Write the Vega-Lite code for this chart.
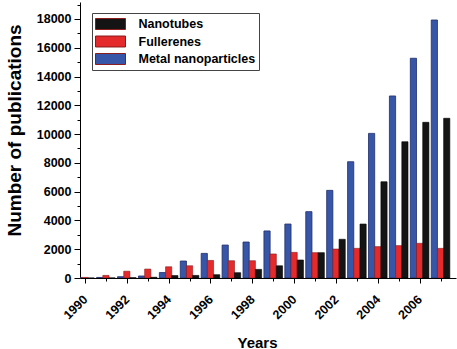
{
  "$schema": "https://vega.github.io/schema/vega-lite/v6.json",
  "autosize": {"type": "none"},
  "padding": {"left": 80, "top": 2, "right": 1, "bottom": 71},
  "width": 376,
  "height": 276,
  "background": "white",
  "config": {
    "view": {"stroke": null},
    "font": "Liberation Sans",
    "axis": {"domainColor": "#000", "tickColor": "#000", "labelColor": "#000", "titleColor": "#000", "grid": false, "domainWidth": 1, "tickWidth": 1}
  },
  "data": {"values": [
    {"year": 1990, "series": "Metal nanoparticles", "value": 20},
    {"year": 1990, "series": "Fullerenes", "value": 40},
    {"year": 1990, "series": "Nanotubes", "value": 0},
    {"year": 1991, "series": "Metal nanoparticles", "value": 40},
    {"year": 1991, "series": "Fullerenes", "value": 180},
    {"year": 1991, "series": "Nanotubes", "value": 5},
    {"year": 1992, "series": "Metal nanoparticles", "value": 90},
    {"year": 1992, "series": "Fullerenes", "value": 470},
    {"year": 1992, "series": "Nanotubes", "value": 20},
    {"year": 1993, "series": "Metal nanoparticles", "value": 140},
    {"year": 1993, "series": "Fullerenes", "value": 620},
    {"year": 1993, "series": "Nanotubes", "value": 50},
    {"year": 1994, "series": "Metal nanoparticles", "value": 380},
    {"year": 1994, "series": "Fullerenes", "value": 780},
    {"year": 1994, "series": "Nanotubes", "value": 170},
    {"year": 1995, "series": "Metal nanoparticles", "value": 1180},
    {"year": 1995, "series": "Fullerenes", "value": 850},
    {"year": 1995, "series": "Nanotubes", "value": 180},
    {"year": 1996, "series": "Metal nanoparticles", "value": 1710},
    {"year": 1996, "series": "Fullerenes", "value": 1220},
    {"year": 1996, "series": "Nanotubes", "value": 230},
    {"year": 1997, "series": "Metal nanoparticles", "value": 2290},
    {"year": 1997, "series": "Fullerenes", "value": 1200},
    {"year": 1997, "series": "Nanotubes", "value": 370},
    {"year": 1998, "series": "Metal nanoparticles", "value": 2500},
    {"year": 1998, "series": "Fullerenes", "value": 1200},
    {"year": 1998, "series": "Nanotubes", "value": 600},
    {"year": 1999, "series": "Metal nanoparticles", "value": 3270},
    {"year": 1999, "series": "Fullerenes", "value": 1670},
    {"year": 1999, "series": "Nanotubes", "value": 850},
    {"year": 2000, "series": "Metal nanoparticles", "value": 3750},
    {"year": 2000, "series": "Fullerenes", "value": 1780},
    {"year": 2000, "series": "Nanotubes", "value": 1250},
    {"year": 2001, "series": "Metal nanoparticles", "value": 4610},
    {"year": 2001, "series": "Fullerenes", "value": 1760},
    {"year": 2001, "series": "Nanotubes", "value": 1760},
    {"year": 2002, "series": "Metal nanoparticles", "value": 6090},
    {"year": 2002, "series": "Fullerenes", "value": 2010},
    {"year": 2002, "series": "Nanotubes", "value": 2690},
    {"year": 2003, "series": "Metal nanoparticles", "value": 8080},
    {"year": 2003, "series": "Fullerenes", "value": 2060},
    {"year": 2003, "series": "Nanotubes", "value": 3750},
    {"year": 2004, "series": "Metal nanoparticles", "value": 10050},
    {"year": 2004, "series": "Fullerenes", "value": 2180},
    {"year": 2004, "series": "Nanotubes", "value": 6690},
    {"year": 2005, "series": "Metal nanoparticles", "value": 12650},
    {"year": 2005, "series": "Fullerenes", "value": 2250},
    {"year": 2005, "series": "Nanotubes", "value": 9470},
    {"year": 2006, "series": "Metal nanoparticles", "value": 15270},
    {"year": 2006, "series": "Fullerenes", "value": 2410},
    {"year": 2006, "series": "Nanotubes", "value": 10820},
    {"year": 2007, "series": "Metal nanoparticles", "value": 17930},
    {"year": 2007, "series": "Fullerenes", "value": 2060},
    {"year": 2007, "series": "Nanotubes", "value": 11100}
  ]},
  "layer": [
    {
      "transform": [{"filter": "datum.series == 'Metal nanoparticles'"}],
      "mark": {"type": "bar", "width": 6.2, "xOffset": -6.2, "stroke": "#1f2d6b", "strokeWidth": 0.8, "clip": true},
      "encoding": {
        "x": {"field": "year", "type": "quantitative",
          "scale": {"domain": [1990, 2007.5], "nice": false, "zero": false},
          "axis": {"orient": "bottom", "values": [1990, 1992, 1994, 1996, 1998, 2000, 2002, 2004, 2006], "format": "d",
            "labelAngle": -45, "labelAlign": "right", "labelBaseline": "middle", "labelPadding": 14,
            "labelDx": -5.7, "labelDy": -5.7,
            "labelFontSize": 12.5, "labelFontWeight": "bold", "labelFlush": false, "labelOverlap": false,
            "tickSize": 5, "title": "Years", "titleFontSize": 15, "titleFontWeight": "bold",
            "titleX": 177, "titleY": 57, "titleBaseline": "top"}},
        "y": {"field": "value", "type": "quantitative",
          "scale": {"domain": [0, 19180], "nice": false},
          "axis": {"orient": "left", "values": [0, 2000, 4000, 6000, 8000, 10000, 12000, 14000, 16000, 18000], "format": "d",
            "labelFontSize": 12.5, "labelFontWeight": "bold", "labelPadding": 3, "tickSize": 6,
            "title": "Number of publications", "titleFontSize": 19, "titleFontWeight": "bold",
            "titleX": -56, "titleY": 128, "titleBaseline": "bottom", "titleAlign": "center"}},
        "color": {"field": "series", "type": "nominal",
          "scale": {"domain": ["Nanotubes", "Fullerenes", "Metal nanoparticles"], "range": ["#141414", "#e52a2c", "#3856a8"]},
          "legend": {"title": null, "orient": "none", "legendX": 12, "legendY": 11,
            "symbolType": "M-2,-0.73h4v1.46h-4z", "symbolSize": 225, "symbolOffset": 7.5,
            "symbolStrokeColor": "#000", "symbolStrokeWidth": 1, "labelOffset": 20,
            "labelFontSize": 12.5, "labelFontWeight": "bold", "labelColor": "#000",
            "rowPadding": 1.5, "padding": 3, "strokeColor": "#444", "fillColor": "white"}}
      }
    },
    {
      "transform": [{"filter": "datum.series == 'Fullerenes'"}],
      "mark": {"type": "bar", "width": 6.2, "xOffset": 0, "stroke": "#8a1a1a", "strokeWidth": 0.6, "clip": true},
      "encoding": {
        "x": {"field": "year", "type": "quantitative",
          "axis": {"orient": "bottom", "values": [1991, 1993, 1995, 1997, 1999, 2001, 2003, 2005, 2007],
            "labels": false, "domain": false, "tickSize": 3, "title": null}},
        "y": {"field": "value", "type": "quantitative",
          "axis": {"orient": "left", "values": [1000, 3000, 5000, 7000, 9000, 11000, 13000, 15000, 17000, 19000],
            "labels": false, "domain": false, "tickSize": 3, "title": null}},
        "color": {"field": "series", "type": "nominal"}
      }
    },
    {
      "transform": [{"filter": "datum.series == 'Nanotubes'"}],
      "mark": {"type": "bar", "width": 6.2, "xOffset": 6.2, "stroke": "#000", "strokeWidth": 0.6, "clip": true},
      "encoding": {
        "x": {"field": "year", "type": "quantitative", "axis": null},
        "y": {"field": "value", "type": "quantitative", "axis": null},
        "color": {"field": "series", "type": "nominal"}
      }
    }
  ],
  "resolve": {"axis": {"x": "independent", "y": "independent"}}
}
